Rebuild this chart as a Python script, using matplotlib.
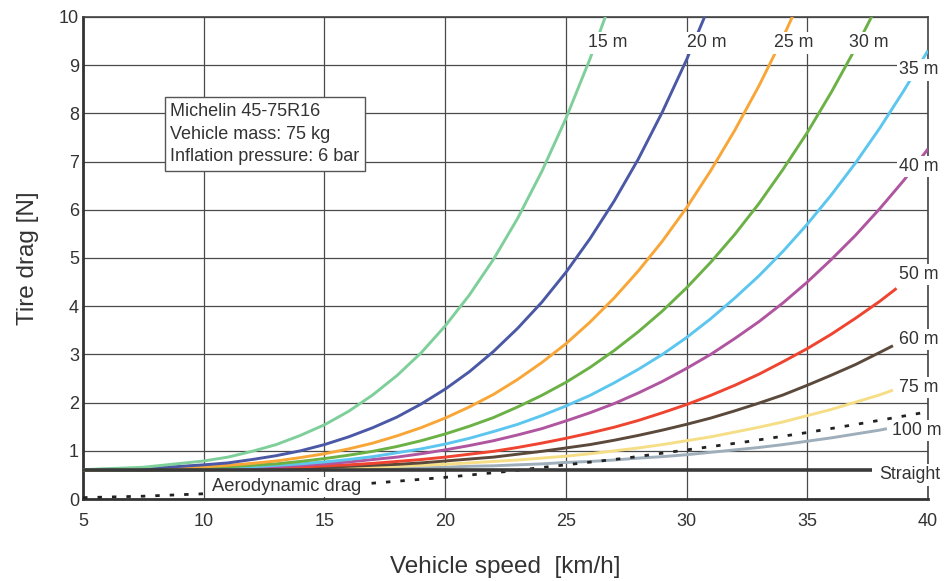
import matplotlib
matplotlib.use("Agg")
import matplotlib.pyplot as plt

plt.rcParams['font.family'] = ['Liberation Sans', 'DejaVu Sans']

# speeds [km/h] used for the curve readings
SPEED = [5, 7.5, 10, 11, 12, 13, 14, 15, 16, 17, 18, 19, 20, 21, 22, 23, 24, 25,
         26, 27, 28, 29, 30, 31, 32, 33, 34, 35, 36, 37, 38, 39, 40]

# tire drag [N], one list per curve radius
drag_15 = [0.61, 0.66, 0.79, 0.87, 0.99, 1.13, 1.32, 1.54, 1.82, 2.16, 2.56, 3.03,
           3.59, 4.23, 4.97, 5.82, 6.79, 7.89, 9.13, 10.09]
speed_15 = SPEED[:19] + [26.7]
drag_20 = [0.61, 0.63, 0.71, 0.75, 0.82, 0.90, 1.00, 1.13, 1.29, 1.48, 1.70, 1.97,
           2.28, 2.64, 3.06, 3.54, 4.08, 4.70, 5.40, 6.18, 7.05, 8.03, 9.11, 10.30]
speed_20 = SPEED[:24]
drag_25 = [0.60, 0.62, 0.67, 0.70, 0.74, 0.79, 0.86, 0.94, 1.04, 1.16, 1.31, 1.48,
           1.68, 1.91, 2.17, 2.48, 2.83, 3.22, 3.67, 4.17, 4.73, 5.35, 6.04, 6.81,
           7.65, 8.57, 9.58, 10.68]
speed_25 = SPEED[:28]
drag_30 = [0.60, 0.61, 0.65, 0.67, 0.70, 0.73, 0.78, 0.84, 0.91, 0.99, 1.09, 1.21,
           1.35, 1.51, 1.69, 1.91, 2.15, 2.42, 2.73, 3.08, 3.47, 3.90, 4.38, 4.91,
           5.49, 6.13, 6.84, 7.60, 8.44, 9.35, 10.33]
speed_30 = SPEED[:31]
drag_35 = [0.60, 0.61, 0.63, 0.65, 0.67, 0.70, 0.73, 0.77, 0.82, 0.88, 0.96, 1.04,
           1.14, 1.26, 1.40, 1.55, 1.73, 1.93, 2.15, 2.41, 2.69, 3.00, 3.35, 3.74,
           4.17, 4.63, 5.14, 5.70, 6.31, 6.97, 7.69, 8.47, 9.30]
speed_35 = SPEED
drag_40 = [0.60, 0.61, 0.63, 0.64, 0.65, 0.67, 0.70, 0.73, 0.77, 0.82, 0.87, 0.94,
           1.02, 1.11, 1.21, 1.33, 1.46, 1.62, 1.79, 1.98, 2.20, 2.44, 2.71, 3.00,
           3.33, 3.68, 4.07, 4.50, 4.97, 5.47, 6.02, 6.61, 7.26]
speed_40 = SPEED
drag_50 = [0.60, 0.61, 0.62, 0.62, 0.63, 0.65, 0.66, 0.69, 0.71, 0.74, 0.78, 0.82,
           0.87, 0.93, 0.99, 1.07, 1.16, 1.26, 1.37, 1.49, 1.63, 1.79, 1.96, 2.15,
           2.36, 2.59, 2.85, 3.12, 3.42, 3.75, 4.10, 4.37]
speed_50 = SPEED[:31] + [38.7]
drag_60 = [0.60, 0.60, 0.61, 0.62, 0.62, 0.63, 0.64, 0.66, 0.68, 0.70, 0.72, 0.75,
           0.79, 0.83, 0.87, 0.93, 0.99, 1.06, 1.13, 1.22, 1.32, 1.43, 1.55, 1.68,
           1.83, 1.99, 2.16, 2.36, 2.57, 2.79, 3.04, 3.18]
speed_60 = SPEED[:31] + [38.55]
drag_75 = [0.60, 0.60, 0.61, 0.61, 0.62, 0.62, 0.63, 0.64, 0.65, 0.66, 0.68, 0.70,
           0.72, 0.75, 0.78, 0.81, 0.85, 0.89, 0.94, 1.00, 1.06, 1.13, 1.21, 1.29,
           1.39, 1.49, 1.60, 1.73, 1.86, 2.01, 2.16, 2.26]
speed_75 = SPEED[:31] + [38.55]
drag_100 = [0.60, 0.60, 0.60, 0.61, 0.61, 0.61, 0.62, 0.62, 0.63, 0.63, 0.64, 0.65,
            0.66, 0.68, 0.69, 0.71, 0.73, 0.76, 0.78, 0.81, 0.85, 0.88, 0.92, 0.97,
            1.02, 1.07, 1.13, 1.20, 1.27, 1.35, 1.43, 1.46]
speed_100 = SPEED[:31] + [38.3]

speed_straight = [5, 37.7]
drag_straight = [0.60, 0.60]

speed_aero = [5, 7.5, 10, 12.5, 15, 17.5, 20, 22.5, 25, 27.5, 30, 32.5, 35, 37.5, 40]
drag_aero = [0.03, 0.06, 0.11, 0.18, 0.25, 0.35, 0.45, 0.57, 0.71, 0.85, 1.02,
             1.19, 1.38, 1.59, 1.81]

labels = ["15 m", "20 m", "25 m", "30 m", "35 m", "40 m", "50 m", "60 m", "75 m", "100 m"]
colors = ["#7fcf9b", "#4b58a6", "#f9a638", "#6bb146", "#5cc6ef", "#b0559f",
          "#ef4430", "#5b4a3b", "#f6de86", "#9eaebb"]

fig = plt.figure(figsize=(9.44, 5.81), dpi=100)
ax = fig.add_axes([0.088, 0.141, 0.895, 0.830])

series = [(speed_15, drag_15), (speed_20, drag_20), (speed_25, drag_25),
          (speed_30, drag_30), (speed_35, drag_35), (speed_40, drag_40),
          (speed_50, drag_50), (speed_60, drag_60), (speed_75, drag_75),
          (speed_100, drag_100)]

for i, (sp, dr) in enumerate(series):
    ax.plot(sp, dr, color=colors[i], lw=2.1, zorder=3 + (10 - i) * 0.01,
            solid_capstyle='butt')

ax.plot(speed_straight, drag_straight, color="#3a3a3a", lw=2.6, zorder=3.5,
        solid_capstyle='butt')
ax.plot(speed_aero, drag_aero, color="#222222", lw=2.0, ls=(0, (1.6, 3.6)), zorder=3.4)

ax.set_xlim(5, 40)
ax.set_ylim(0, 10)
ax.set_xticks(range(5, 41, 5))
ax.set_yticks(range(0, 11))
ax.grid(True, color="#4a4a4a", lw=0.9)
ax.set_axisbelow(True)
ax.tick_params(length=0, labelsize=13, colors="#333333")
ax.tick_params(axis='y', pad=3)
ax.tick_params(axis='x', pad=10)

for side in ['left', 'bottom']:
    ax.spines[side].set_linewidth(2.0)
    ax.spines[side].set_color("#333333")
for side in ['top', 'right']:
    ax.spines[side].set_linewidth(1.2)
    ax.spines[side].set_color("#444444")

ax.set_xlabel("Vehicle speed  [km/h]", fontsize=17.5, color="#333333", labelpad=19)
ax.set_ylabel("Tire drag [N]", fontsize=17.5, color="#333333", labelpad=14)

# curve labels
lbl_box = dict(boxstyle='square,pad=0.12', fc='white', ec='none')
top_x = [26.75, 30.85, 34.45, 37.55]
for name, xx in zip(labels[:4], top_x):
    ax.text(xx, 9.46, name, fontsize=12.8, color="#333333", ha='center', va='center',
            bbox=lbl_box, zorder=6, clip_on=False)
right_y = [8.9, 6.9, 4.65, 3.31, 2.31, 1.42]
right_x = [39.63, 39.63, 39.63, 39.63, 39.63, 39.55]
for name, xx, yy in zip(labels[4:], right_x, right_y):
    ax.text(xx, yy, name, fontsize=12.8, color="#333333", ha='center', va='center',
            bbox=lbl_box, zorder=6, clip_on=False)
ax.text(39.26, 0.5, "Straight", fontsize=12.8, color="#333333", ha='center', va='center',
        bbox=lbl_box, zorder=6, clip_on=False)
ax.text(10.35, 0.26, "Aerodynamic drag", fontsize=13.2, color="#333333", ha='left',
        va='center', bbox=dict(boxstyle='square,pad=0.08', fc='white', ec='none'), zorder=6)

ax.text(8.6, 8.22, "Michelin 45-75R16\nVehicle mass: 75 kg\nInflation pressure: 6 bar",
        fontsize=13.0, color="#333333", ha='left', va='top', linespacing=1.45,
        bbox=dict(boxstyle='square,pad=0.3', fc='white', ec='#555555', lw=1.0), zorder=6)

fig.savefig("out.png", dpi=100)
